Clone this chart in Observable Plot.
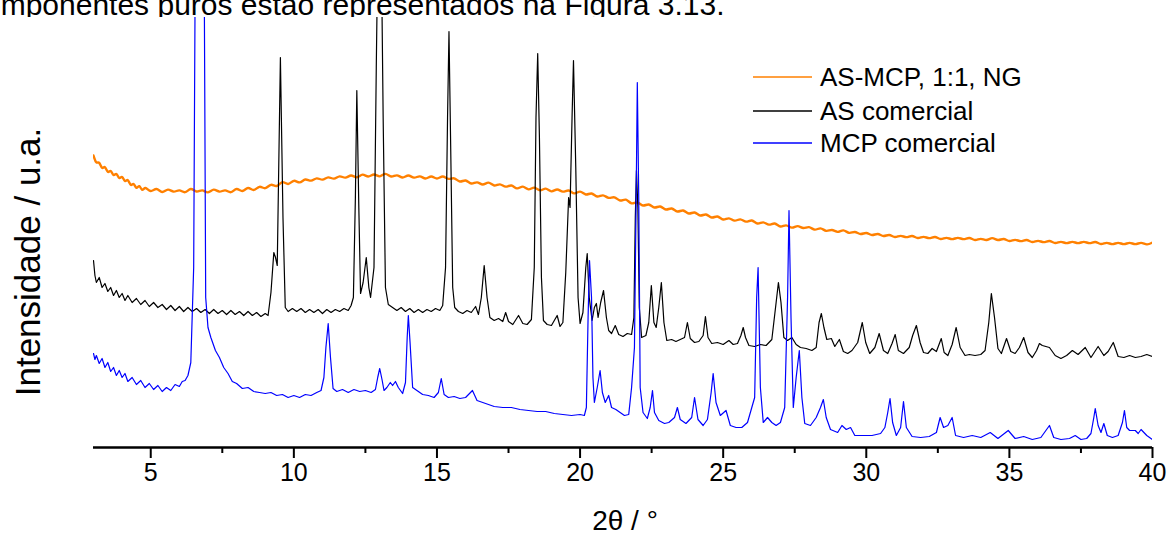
<!DOCTYPE html>
<html>
<head>
<meta charset="utf-8">
<script src="https://cdn.jsdelivr.net/npm/d3@7"></script>
<script src="https://cdn.jsdelivr.net/npm/@observablehq/plot@0.6"></script>
<style>
  body { margin: 0; background: #fff; font-family: "Liberation Sans", Arial, sans-serif; }
  #header { position: relative; height: 17px; overflow: hidden; width: 1167px; }
  #header span { position: absolute; left: -31px; top: -10px; font-size: 30px; line-height: 30px; white-space: nowrap; color: #000; }
  #chart { width: 1167px; height: 517px; }
</style>
</head>
<body>
<div id="header"><span>componentes puros estão representados na Figura 3.13.</span></div>
<div id="chart"></div>
<script>
// Series names and colours
const seriesNames = ["AS-MCP, 1:1, NG", "AS comercial", "MCP comercial"];
const seriesColors = ["#ff8000", "#000000", "#0000ff"];
const majorTicks = [5, 10, 15, 20, 25, 30, 35, 40];
const minorTicks = [7.5, 12.5, 17.5, 22.5, 27.5, 32.5, 37.5];

// [2θ (°), intensity (a.u., offset trace)]
const asMcpData = [
[3.0,292],[3.1,283],[3.2,287],[3.3,277],[3.4,283],[3.5,273],[3.6,279],[3.7,270],[3.8,276],[3.9,267],
[4.0,273],[4.1,264],[4.2,270],[4.3,260],[4.4,266],[4.5,257],[4.6,264],[4.7,255],[4.8,262],[5.0,254],
[5.2,261],[5.4,253],[5.6,260],[5.8,254],[6.0,259],[6.2,253],[6.4,261],[6.6,254],[6.8,259],[7.0,253],
[7.2,260],[7.4,254],[7.6,259],[7.8,253],[8.0,261],[8.2,254],[8.4,262],[8.6,255],[8.8,263],[9.0,257],
[9.2,265],[9.4,259],[9.6,268],[9.8,261],[10.0,269],[10.2,263],[10.4,270],[10.6,265],[10.8,271],[11.0,266],
[11.2,272],[11.4,267],[11.6,273],[11.8,268],[12.0,274],[12.2,268],[12.4,275],[12.6,269],[12.8,275],[13.0,269],
[13.2,276],[13.4,269],[13.6,274],[13.8,268],[14.0,274],[14.2,268],[14.4,273],[14.6,267],[14.8,273],[15.0,267],
[15.2,273],[15.4,267],[15.6,271],[15.8,264],[16.0,269],[16.2,262],[16.4,267],[16.6,261],[16.8,267],[17.0,260],
[17.2,265],[17.4,259],[17.6,264],[17.8,257],[18.0,263],[18.2,256],[18.4,262],[18.6,255],[18.8,261],[19.0,254],
[19.2,260],[19.4,254],[19.6,259],[19.8,252],[20.0,258],[20.2,251],[20.4,256],[20.6,249],[20.8,254],[21.0,248],
[21.2,252],[21.4,245],[21.6,250],[21.8,242],[22.0,247],[22.2,240],[22.4,245],[22.6,238],[22.8,243],[23.0,236],
[23.2,241],[23.4,234],[23.6,239],[23.8,232],[24.0,237],[24.2,230],[24.4,235],[24.6,228],[24.8,233],[25.0,226],
[25.2,231],[25.4,225],[25.6,230],[25.8,224],[26.0,229],[26.2,222],[26.4,227],[26.6,221],[26.8,226],[27.0,219],
[27.2,224],[27.4,218],[27.6,223],[27.8,218],[28.0,222],[28.2,216],[28.4,221],[28.6,215],[28.8,219],[29.0,214],
[29.2,219],[29.4,213],[29.6,217],[29.8,212],[30.0,216],[30.2,211],[30.4,215],[30.6,210],[30.8,214],[31.0,209],
[31.2,213],[31.4,209],[31.6,213],[31.8,208],[32.0,212],[32.2,208],[32.4,212],[32.6,207],[32.8,211],[33.0,207],
[33.2,211],[33.4,207],[33.6,211],[33.8,206],[34.0,210],[34.2,206],[34.4,211],[34.6,206],[34.8,210],[35.0,205],
[35.2,209],[35.4,205],[35.6,209],[35.8,204],[36.0,208],[36.2,204],[36.4,208],[36.6,203],[36.8,207],[37.0,203],
[37.2,207],[37.4,203],[37.6,207],[37.8,203],[38.0,207],[38.2,202],[38.4,206],[38.6,202],[38.8,206],[39.0,202],
[39.2,206],[39.4,202],[39.6,206],[39.8,202],[40.0,205]
];

const asData = [
[3.0,187],[3.05,172],[3.1,165],[3.2,170],[3.3,160],[3.4,164],[3.5,156],[3.6,160],[3.7,152],[3.8,157],
[3.9,150],[4.0,154],[4.1,147],[4.2,152],[4.35,145],[4.5,149],[4.65,143],[4.8,147],[4.95,141],[5.1,145],
[5.25,140],[5.4,143],[5.55,138],[5.7,142],[5.85,137],[6.0,141],[6.15,136],[6.3,140],[6.45,136],[6.6,139],
[6.75,135],[6.9,138],[7.05,134],[7.2,138],[7.35,134],[7.5,137],[7.65,133],[7.8,137],[7.95,133],[8.1,136],
[8.25,132],[8.4,136],[8.55,132],[8.7,135],[8.85,131],[9.0,134],[9.1,132],[9.2,155],[9.3,195],[9.36,190],
[9.42,182],[9.53,390],[9.62,230],[9.7,140],[9.8,136],[9.95,139],[10.1,136],[10.25,139],[10.4,135],[10.55,138],
[10.7,135],[10.85,138],[11.0,134],[11.15,138],[11.3,135],[11.45,138],[11.6,136],[11.75,139],[11.9,137],[12.0,142],
[12.08,150],[12.15,250],[12.2,357],[12.27,240],[12.33,154],[12.42,165],[12.53,190],[12.62,160],[12.68,150],[12.8,180],
[12.88,380],[13.0,650],[13.12,330],[13.2,160],[13.3,143],[13.45,140],[13.6,137],[13.75,140],[13.9,136],[14.05,139],
[14.2,135],[14.35,138],[14.5,135],[14.65,138],[14.8,136],[14.95,139],[15.1,137],[15.2,142],[15.3,180],[15.37,330],
[15.42,416],[15.48,300],[15.55,160],[15.62,140],[15.75,136],[15.9,134],[16.05,137],[16.2,135],[16.35,141],[16.45,133],
[16.55,150],[16.65,182],[16.75,150],[16.85,130],[17.0,127],[17.15,129],[17.3,126],[17.4,135],[17.5,126],[17.65,123],
[17.85,132],[18.0,124],[18.15,123],[18.3,128],[18.4,180],[18.46,330],[18.52,394],[18.58,310],[18.65,170],[18.72,127],
[18.85,123],[19.0,122],[19.2,132],[19.3,121],[19.4,125],[19.5,175],[19.6,250],[19.65,240],[19.72,330],[19.77,387],
[19.85,280],[19.93,150],[20.0,124],[20.1,135],[20.2,180],[20.25,194],[20.32,150],[20.42,127],[20.5,140],[20.57,144],
[20.63,130],[20.72,145],[20.82,157],[20.92,130],[21.0,117],[21.1,114],[21.23,122],[21.35,113],[21.5,111],[21.65,114],
[21.8,113],[21.88,130],[21.93,230],[21.97,277],[22.02,240],[22.07,140],[22.15,110],[22.3,112],[22.4,125],[22.49,162],
[22.58,125],[22.66,120],[22.75,140],[22.84,165],[22.93,125],[23.03,107],[23.2,108],[23.35,106],[23.5,108],[23.65,110],
[23.75,125],[23.85,109],[24.0,105],[24.15,106],[24.3,112],[24.38,131],[24.47,110],[24.6,104],[24.8,105],[25.0,103],
[25.2,107],[25.35,103],[25.5,104],[25.62,112],[25.7,120],[25.78,110],[25.9,102],[26.1,101],[26.3,103],[26.5,102],
[26.7,108],[26.85,145],[26.93,165],[27.02,145],[27.12,110],[27.25,107],[27.4,110],[27.55,103],[27.7,100],[27.9,99],
[28.1,97],[28.25,100],[28.35,125],[28.43,134],[28.52,120],[28.62,108],[28.78,109],[28.9,101],[29.06,108],[29.2,96],
[29.35,94],[29.5,97],[29.7,105],[29.86,125],[29.98,105],[30.12,94],[30.3,100],[30.45,114],[30.6,97],[30.75,94],
[30.9,104],[31.01,113],[31.12,97],[31.3,94],[31.5,100],[31.62,112],[31.75,122],[31.88,105],[32.0,95],[32.15,94],
[32.3,99],[32.45,96],[32.62,109],[32.72,95],[32.85,92],[33.0,103],[33.14,120],[33.28,100],[33.45,92],[33.6,93],
[33.8,92],[34.0,93],[34.15,97],[34.28,125],[34.37,154],[34.48,130],[34.6,99],[34.72,94],[34.9,109],[35.05,96],
[35.2,94],[35.35,100],[35.5,110],[35.65,95],[35.8,90],[35.95,97],[36.05,104],[36.15,102],[36.4,100],[36.6,92],
[36.8,89],[37.0,92],[37.2,97],[37.4,93],[37.65,100],[37.85,90],[38.1,101],[38.3,92],[38.45,96],[38.63,105],
[38.8,91],[39.0,90],[39.2,92],[39.4,90],[39.6,91],[39.8,93],[40.0,91]
];

const mcpData = [
[3.0,94],[3.05,88],[3.1,92],[3.2,84],[3.3,89],[3.4,80],[3.5,85],[3.6,76],[3.7,80],[3.8,72],
[3.9,77],[4.0,70],[4.1,74],[4.2,66],[4.35,70],[4.5,63],[4.65,67],[4.8,60],[4.95,64],[5.1,58],
[5.25,62],[5.4,56],[5.55,60],[5.7,57],[5.85,63],[6.0,61],[6.1,66],[6.2,67],[6.3,72],[6.4,85],
[6.5,180],[6.72,1400],[6.92,150],[7.0,120],[7.1,110],[7.26,97],[7.4,90],[7.55,80],[7.7,74],[7.85,66],
[8.0,64],[8.2,59],[8.4,60],[8.6,56],[8.8,55],[9.0,54],[9.2,55],[9.4,52],[9.6,53],[9.8,50],
[10.0,52],[10.2,50],[10.4,53],[10.6,52],[10.8,55],[10.95,57],[11.05,70],[11.12,100],[11.2,124],[11.28,90],
[11.37,59],[11.5,56],[11.7,58],[11.9,55],[12.1,58],[12.3,56],[12.5,57],[12.7,55],[12.85,58],[12.93,70],
[13.0,79],[13.08,68],[13.15,57],[13.25,60],[13.37,65],[13.45,62],[13.55,66],[13.65,60],[13.8,54],[13.9,65],
[13.96,110],[14.0,132],[14.06,105],[14.15,60],[14.3,57],[14.5,53],[14.7,52],[14.9,50],[15.05,55],[15.15,69],
[15.25,53],[15.4,50],[15.6,51],[15.8,49],[16.0,50],[16.24,57],[16.4,47],[16.6,45],[16.8,43],[17.0,41],
[17.3,40],[17.6,40],[17.9,38],[18.2,37],[18.5,36],[18.8,36],[19.1,34],[19.4,33],[19.7,32],[20.0,33],
[20.15,32],[20.22,40],[20.28,130],[20.33,187],[20.4,150],[20.45,70],[20.5,45],[20.6,60],[20.7,77],[20.78,55],
[20.88,45],[21.0,52],[21.1,40],[21.25,38],[21.4,35],[21.55,32],[21.7,33],[21.8,60],[21.9,100],[21.96,250],
[22.0,365],[22.05,250],[22.1,60],[22.2,35],[22.35,29],[22.45,40],[22.53,57],[22.6,35],[22.75,27],[22.95,24],
[23.1,25],[23.3,30],[23.4,40],[23.5,28],[23.7,24],[23.9,30],[24.0,50],[24.12,28],[24.3,22],[24.45,28],
[24.58,55],[24.65,74],[24.75,45],[24.9,32],[25.1,37],[25.25,22],[25.45,20],[25.65,20],[25.85,25],[26.0,40],
[26.1,50],[26.17,150],[26.22,180],[26.3,60],[26.4,25],[26.55,30],[26.7,25],[26.85,22],[27.0,25],[27.15,40],
[27.25,150],[27.3,237],[27.37,130],[27.45,40],[27.55,70],[27.66,97],[27.75,50],[27.85,24],[28.05,22],[28.25,30],
[28.4,40],[28.5,48],[28.6,30],[28.75,18],[29.0,15],[29.15,22],[29.3,18],[29.45,20],[29.6,12],[29.9,12],
[30.2,12],[30.5,14],[30.65,20],[30.75,35],[30.83,49],[30.92,25],[31.05,12],[31.2,20],[31.3,46],[31.4,20],
[31.6,11],[31.9,10],[32.2,11],[32.45,15],[32.58,30],[32.7,20],[32.85,22],[33.0,30],[33.12,12],[33.4,10],
[33.7,12],[34.0,10],[34.33,15],[34.6,9],[34.96,17],[35.2,9],[35.5,11],[35.8,8],[36.1,10],[36.4,22],
[36.55,10],[36.8,8],[37.1,9],[37.3,12],[37.5,8],[37.7,9],[37.85,14],[37.95,30],[38.0,39],[38.1,22],
[38.2,15],[38.3,24],[38.42,12],[38.6,10],[38.8,12],[38.95,25],[39.02,37],[39.1,20],[39.2,17],[39.4,17],
[39.5,14],[39.6,18],[39.8,12],[40.0,8]
];

const seriesData = [asMcpData, asData, mcpData];
const seriesWidths = [2.4, 1.2, 1.2];
const seriesCurves = ["basis", "linear", "linear"];

const plot = Plot.plot({
  width: 1167,
  height: 517,
  marginTop: 0,
  marginLeft: 93,
  marginRight: 15,
  marginBottom: 87,
  style: { fontFamily: "'Liberation Sans', Arial, sans-serif", color: "#000", background: "#fff" },
  x: { domain: [3, 40] },
  y: { domain: [0, 430], axis: null },
  marks: [
    ...seriesData.map((data, i) => Plot.line(data, {
      x: d => d[0], y: d => d[1], stroke: seriesColors[i], strokeWidth: seriesWidths[i],
      curve: seriesCurves[i], clip: true
    })),
    Plot.axisX({ ticks: majorTicks, tickSize: 11, tickPadding: 5, fontSize: 25, strokeWidth: 2, label: null }),
    Plot.axisX({ ticks: minorTicks, tickSize: 6, tickFormat: () => "", strokeWidth: 2, label: null }),
    Plot.ruleY([0], { strokeWidth: 2.5 })
  ]
});

document.getElementById("chart").appendChild(plot);

const svg = d3.select(plot);
// y-axis title
svg.append("text")
  .attr("transform", "translate(28,245) rotate(-90)")
  .attr("text-anchor", "middle")
  .attr("dy", "0.35em")
  .style("font-size", "35px")
  .style("fill", "#000")
  .text("Intensidade / u.a.");
// x-axis title
svg.append("text")
  .attr("x", 625).attr("y", 513)
  .attr("text-anchor", "middle")
  .style("font-size", "28px")
  .style("fill", "#000")
  .text("2θ / °");
// legend
const legendY = [60, 94, 126];
seriesNames.forEach((name, i) => {
  svg.append("line")
    .attr("x1", 753).attr("x2", 812)
    .attr("y1", legendY[i]).attr("y2", legendY[i])
    .attr("stroke", seriesColors[i]).attr("stroke-width", 1.5);
  svg.append("text")
    .attr("x", 820).attr("y", legendY[i] + 9.3)
    .attr("text-anchor", "start")
    .style("font-size", "26px")
    .style("fill", "#000")
    .text(name);
});
</script>
</body>
</html>
